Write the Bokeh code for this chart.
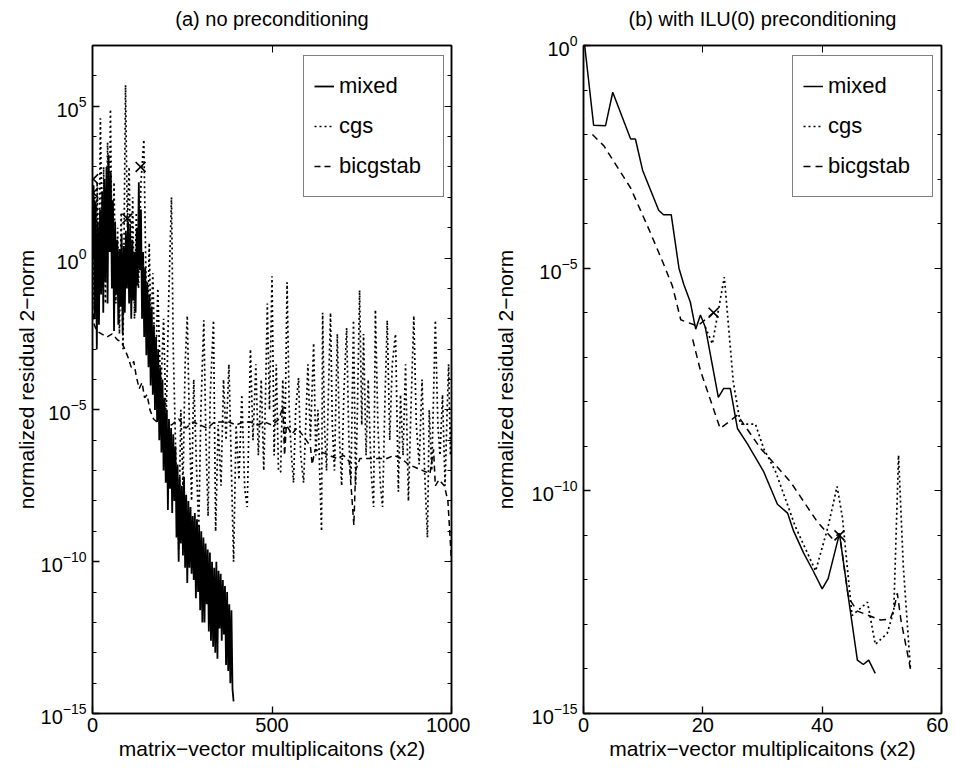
from bokeh.plotting import figure
from bokeh.models import (Range1d, FixedTicker, LogAxis, LinearAxis, Legend, LegendItem,
                          CustomJSTickFormatter)
from bokeh.layouts import row
from bokeh.embed import file_html
from bokeh.resources import INLINE

# ---------------- data: panel (a) no preconditioning (y stored as log10) ----------------
mixed_a_x = [0, 3, 6, 9, 12, 15, 18, 21, 24, 27, 30, 33, 36, 39, 42, 45, 48, 51, 54, 57, 60, 63, 66,
             69, 72, 75, 78, 81, 84, 87, 90, 93, 96, 99, 102, 105, 108, 111, 114, 117, 120, 123, 126,
             129, 132, 135, 138, 141, 144, 147, 150, 153, 156, 159, 162, 165, 168, 171, 174, 177, 180,
             183, 186, 189, 192, 195, 198, 201, 204, 207, 210, 213, 216, 219, 222, 225, 228, 231, 234,
             237, 240, 243, 246, 249, 252, 255, 258, 261, 264, 267, 270, 273, 276, 279, 282, 285, 288,
             291, 294, 297, 300, 303, 306, 309, 312, 315, 318, 321, 324, 327, 330, 333, 336, 339, 342,
             345, 348, 351, 354, 357, 360, 363, 366, 369, 372, 375, 378, 381, 384, 387, 390, 393]
mixed_a_exp = [0.0, 2.4, -2.0, 1.8, -3.0, 1.2, -2.2, 1.6, -1.2, 2.2, -1.8, 2.6, -0.8, 3.0, -1.5, 3.4,
               0.2, 2.8, -1.0, 1.9, -2.4, 1.2, -1.2, 0.6, -2.2, 0.3, -1.6, 0.8, -2.5, 0.4, -1.8, 0.9,
               -1.0, 1.2, -1.5, 1.1, -2.0, 0.6, -1.4, 0.2, -1.8, 1.0, -0.9, 2.5, -0.4, 1.6, -2.0, 0.2,
               -2.6, -0.3, -3.2, -0.8, -3.6, -1.2, -4.2, -1.6, -4.5, -2.2, -5.0, -2.6, -5.4, -3.0,
               -6.0, -3.6, -6.4, -4.0, -7.0, -4.6, -7.4, -5.0, -8.3, -5.3, -7.6, -5.6, -8.4, -5.8,
               -8.0, -6.2, -9.2, -6.8, -10.0, -7.2, -9.4, -7.5, -9.8, -7.2, -10.2, -7.8, -10.7, -8.0,
               -10.2, -8.2, -10.4, -8.5, -10.6, -8.4, -11.2, -8.6, -11.0, -8.8, -11.6, -9.0, -12.0,
               -9.2, -12.0, -9.4, -11.4, -9.6, -12.3, -9.7, -12.6, -10.0, -12.8, -10.2, -13.0, -10.0,
               -13.2, -10.3, -12.2, -10.4, -12.6, -10.6, -12.4, -10.8, -13.4, -11.0, -13.6, -11.4,
               -14.0, -11.6, -14.2, -14.6]

cgs_a_x = [0, 3, 6, 9, 13, 17, 22, 27, 31, 36, 42, 47, 50, 55, 60, 65, 70, 75, 80, 85, 92, 97, 102,
           107, 112, 117, 122, 128, 135, 143, 148, 153, 158, 163, 168, 175, 182, 190, 198, 205, 212,
           220, 225, 232, 240, 246, 252, 258, 264, 270, 276, 282, 290, 296, 302, 310, 316, 322, 328,
           337, 343, 350, 358, 365, 372, 380, 387, 393, 400, 408, 416, 424, 431, 440, 447, 455, 462,
           470, 477, 482, 487, 493, 500, 506, 512, 518, 524, 530, 536, 542, 548, 554, 560, 566, 574,
           580, 588, 594, 600, 607, 616, 622, 628, 634, 638, 641, 646, 652, 657, 663, 668, 674, 682,
           688, 694, 700, 708, 714, 720, 727, 733, 738, 744, 750, 755, 762, 768, 776, 783, 788, 795,
           802, 808, 815, 821, 828, 835, 844, 852, 858, 865, 872, 880, 887, 895, 902, 910, 918, 925,
           933, 938, 945, 955, 962, 968, 975, 982, 988, 992, 997, 1000]
cgs_a_exp = [0.5, -1.5, 2.0, -1.0, 2.5, -2.0, 4.6, 0.0, 3.0, -1.5, 3.8, 0.5, 4.9, -0.5, 2.5, -1.5, 1.0,
             -2.5, 1.5, -3.0, 5.7, 1.0, 3.0, -1.0, 2.0, -2.0, 1.5, -1.0, 2.5, 3.9, 0.0, -3.0, 0.5,
             -2.5, -0.5, -4.0, -1.0, -4.5, -2.0, -5.5, -1.5, 2.0, -3.0, -6.5, -9.6, -5.0, -7.5, -3.5,
             -1.9, -5.5, -8.0, -4.0, -7.0, -8.9, -5.0, -2.05, -6.0, -8.5, -4.5, -2.05, -9.0, -5.5,
             -7.5, -4.0, -6.0, -3.5, -7.0, -10.0, -5.5, -7.3, -4.5, -7.6, -8.2, -3.0, -6.0, -3.5,
             -6.5, -4.0, -7.0, -4.5, -1.5, -5.0, -0.6, -6.5, -3.5, -7.0, -7.05, -4.0, -6.0, -0.8,
             -5.0, -6.5, -7.4, -5.0, -3.95, -6.5, -7.4, -5.5, -3.5, -6.0, -2.8, -6.5, -5.0, -7.5,
             -9.0, -1.8, -5.5, -7.0, -4.5, -1.8, -5.5, -7.0, -2.5, -6.0, -7.5, -4.5, -2.3, -6.0,
             -7.3, -2.05, -7.5, -5.0, -1.06, -5.5, -2.5, -6.5, -4.0, -7.0, -8.2, -1.7, -5.5, -7.5,
             -8.2, -4.5, -2.05, -6.0, -3.5, -2.5, -7.7, -4.5, -6.5, -3.5, -8.0, -5.0, -1.9, -5.5,
             -6.8, -4.0, -7.0, -9.2, -5.0, -7.0, -2.05, -5.5, -6.5, -4.5, -7.5, -5.0, -3.5, -6.5, -5.5]

bicg_a_x = [0, 5, 12, 25, 40, 55, 70, 80, 90, 100, 108, 115, 122, 130, 138, 145, 152, 160, 170, 180,
            200, 220, 240, 260, 280, 300, 320, 340, 360, 380, 400, 420, 440, 460, 480, 500, 520, 530,
            535, 540, 555, 570, 590, 607, 612, 620, 640, 660, 680, 700, 715, 722, 728, 733, 745, 780,
            800, 820, 840, 860, 880, 900, 920, 940, 950, 955, 965, 980, 990, 995, 1000]
bicg_a_exp = [-1.5, -2.2, -2.4, -2.5, -2.6, -2.5, -2.7, -2.75, -3.0, -3.3, -3.6, -3.4, -3.9, -4.3,
              -4.1, -4.6, -4.5, -5.0, -5.3, -5.4, -5.4, -5.5, -5.3, -5.6, -5.4, -5.5, -5.6, -5.4,
              -5.4, -5.4, -5.5, -5.4, -5.4, -5.5, -5.4, -5.5, -5.3, -4.9, -6.5, -5.5, -5.8, -5.6,
              -5.9, -6.2, -6.8, -6.3, -6.4, -6.5, -6.6, -6.5, -6.7, -7.8, -8.8, -7.0, -6.6, -6.6,
              -6.6, -6.6, -6.5, -6.6, -6.8, -6.9, -7.0, -7.1, -6.3, -7.5, -7.3, -7.5, -8.0, -9.0, -10.0]

marks_a_x = [2, 2, 2, 2, 97, 134]
marks_a_exp = [2.6, 2.15, 1.75, 1.3, 1.3, 3.0]

# ---------------- data: panel (b) with ILU(0) preconditioning ----------------
mixed_b_x = [0.2, 1.7, 3.7, 4.9, 7.9, 8.7, 9.9, 12.6, 13.4, 14.7, 16.0, 16.8, 17.9, 18.8, 19.6, 20.4,
             22.6, 23.5, 24.6, 25.8, 27.5, 30.2, 32.5, 34.2, 35.2, 36.9, 38.5, 40.0, 41.0, 42.9,
             44.4, 45.9, 46.9, 47.8, 48.9]
mixed_b_exp = [0.0, -1.79, -1.8, -1.05, -2.1, -2.1, -2.8, -3.7, -3.8, -3.8, -5.0, -5.36, -5.76,
               -6.37, -6.05, -6.32, -7.9, -7.7, -7.7, -8.6, -8.95, -9.57, -10.3, -10.5, -10.9,
               -11.4, -11.8, -12.2, -11.97, -10.96, -12.4, -13.8, -13.9, -13.8, -14.1]

cgs_b_x = [20.4, 21.6, 23.6, 25.1, 26.3, 28.8, 30.2, 32.2, 35.5, 38.9, 41.0, 42.5, 43.4, 45.0, 47.6,
           48.9, 50.9, 52.0, 52.8, 53.6, 54.8]
cgs_b_exp = [-6.32, -6.7, -5.2, -7.55, -8.5, -8.5, -9.05, -9.57, -10.8, -11.8, -10.8, -9.9, -10.6,
             -12.8, -12.5, -13.45, -13.2, -12.7, -9.2, -11.7, -14.0]

bicg_b_x = [1.5, 3.4, 7.9, 11.2, 13.4, 14.9, 16.3, 19.1, 21.8]
bicg_b_exp = [-2.0, -2.25, -3.2, -4.2, -4.9, -5.4, -6.16, -6.3, -6.0]
bicg2_b_x = [18.3, 19.6, 22.9, 25.8, 29.7, 34.7, 39.2, 41.7, 42.9, 44.4, 45.9, 47.8, 49.8, 51.4,
             52.0, 52.6, 53.2, 54.8]
bicg2_b_exp = [-6.6, -7.3, -8.6, -8.3, -9.05, -9.8, -10.7, -11.07, -10.96, -12.4, -12.7, -12.8,
               -12.9, -12.88, -12.67, -12.3, -12.9, -14.0]

marks_b_x = [21.8, 42.9]
marks_b_exp = [-6.0, -11.0]

FONT = "Liberation Sans"


def tolin(e):
    return [10.0 ** v for v in e]


def style(p, xticks, top_ticks, yticks, yminor, ylabel_standoff):
    p.outline_line_color = "black"
    p.outline_line_width = 1.5
    p.xgrid.visible = False
    p.ygrid.visible = False
    p.title.text_font = FONT
    p.title.text_font_style = "normal"
    p.title.text_font_size = "20px"
    p.title.text_color = "black"
    p.title.align = "center"
    p.title.offset = 0
    p.title.standoff = 4
    p.xaxis.ticker = FixedTicker(ticks=xticks)
    p.yaxis.ticker = FixedTicker(ticks=yticks, minor_ticks=yminor)
    for ax in p.xaxis + p.yaxis:
        ax.axis_line_width = 1.5
        ax.major_tick_in = 7
        ax.major_tick_out = 0
        ax.minor_tick_in = 4
        ax.minor_tick_out = 0
        ax.major_tick_line_width = 1.3
        ax.major_label_text_font = FONT
        ax.major_label_text_font_size = "20px"
        ax.major_label_text_color = "black"
        ax.axis_label_text_font = FONT
        ax.axis_label_text_font_size = "21px"
        ax.axis_label_text_font_style = "normal"
        ax.axis_label_text_color = "black"
    p.xaxis.major_label_standoff = 4
    p.xaxis.axis_label_standoff = 2
    p.yaxis.major_label_standoff = 6
    p.yaxis.axis_label_standoff = ylabel_standoff
    p.xaxis.axis_label = "matrix\u2212vector multiplicaitons (x2)"
    p.yaxis.axis_label = "normalized residual 2\u2212norm"
    right = LogAxis(ticker=FixedTicker(ticks=yticks, minor_ticks=yminor),
                    formatter=CustomJSTickFormatter(code="return ''"),
                    major_tick_in=7, major_tick_out=0, minor_tick_in=4, minor_tick_out=0,
                    major_label_standoff=0, axis_line_width=1.5)
    # mirror axis on top; an invisible spacer label lifts the title away from the frame
    top = LinearAxis(ticker=FixedTicker(ticks=top_ticks),
                     formatter=CustomJSTickFormatter(code="return ''"),
                     major_tick_in=7, major_tick_out=0, minor_tick_out=0, minor_tick_in=0,
                     major_label_standoff=0, axis_line_width=1.5,
                     axis_label="_", axis_label_text_alpha=0, axis_label_text_font_size="10px",
                     axis_label_standoff=0)
    p.add_layout(right, "right")
    p.add_layout(top, "above")


def add_legend(p, rs, loc):
    items = [LegendItem(label="mixed", renderers=[rs[0]]),
             LegendItem(label="cgs", renderers=[rs[1]]),
             LegendItem(label="bicgstab", renderers=[rs[2]])]
    lg = Legend(items=items, location=loc, label_text_font=FONT, label_text_font_size="22px",
                label_text_color="black",
                glyph_width=20, glyph_height=20, label_height=40, label_width=94,
                label_standoff=5, padding=10, spacing=0, margin=0,
                border_line_color="black", border_line_width=1.5, background_fill_alpha=1)
    p.add_layout(lg)


yminor_a = [10.0 ** k for k in range(-15, 8)]
pa = figure(title="(a) no preconditioning", y_axis_type="log", x_range=Range1d(0, 1000),
            y_range=Range1d(1e-15, 1e7), frame_width=359, frame_height=668,
            min_border_left=92, min_border_right=19, min_border_top=45, min_border_bottom=52,
            output_backend="svg", toolbar_location=None)
style(pa, [0, 500, 1000], [500], [1e-15, 1e-10, 1e-5, 1, 1e5], yminor_a, 0)
rc = pa.line(cgs_a_x, tolin(cgs_a_exp), line_color="black", line_width=1.7, line_dash="2 3")
rb = pa.line(bicg_a_x, tolin(bicg_a_exp), line_color="black", line_width=1.5, line_dash="6 4")
rm = pa.line(mixed_a_x, tolin(mixed_a_exp), line_color="black", line_width=1.8)
pa.scatter(marks_a_x, tolin(marks_a_exp), marker="x", size=14, line_color="black", line_width=1.6)
add_legend(pa, [rm, rc, rb], (211, 516))

yminor_b = [10.0 ** k for k in range(-15, 1)]
pb = figure(title="(b) with ILU(0) preconditioning", y_axis_type="log", x_range=Range1d(0, 60),
            y_range=Range1d(1e-15, 1), frame_width=358, frame_height=668,
            min_border_left=113, min_border_right=7, min_border_top=45, min_border_bottom=52,
            output_backend="svg", toolbar_location=None)
style(pb, [0, 20, 40, 60], [20, 40], [1e-15, 1e-10, 1e-5, 1], yminor_b, 12)
rc2 = pb.line(cgs_b_x, tolin(cgs_b_exp), line_color="black", line_width=1.7, line_dash="2 3")
rb2 = pb.line(bicg_b_x, tolin(bicg_b_exp), line_color="black", line_width=1.5, line_dash="7 5")
pb.line(bicg2_b_x, tolin(bicg2_b_exp), line_color="black", line_width=1.5, line_dash="7 5")
rm2 = pb.line(mixed_b_x, tolin(mixed_b_exp), line_color="black", line_width=1.5)
pb.scatter(marks_b_x, tolin(marks_b_exp), marker="x", size=14, line_color="black", line_width=1.6)
add_legend(pb, [rm2, rc2, rb2], (209, 516))

layout = row(pa, pb, spacing=0)
open("out.html", "w").write(file_html(layout, INLINE))
